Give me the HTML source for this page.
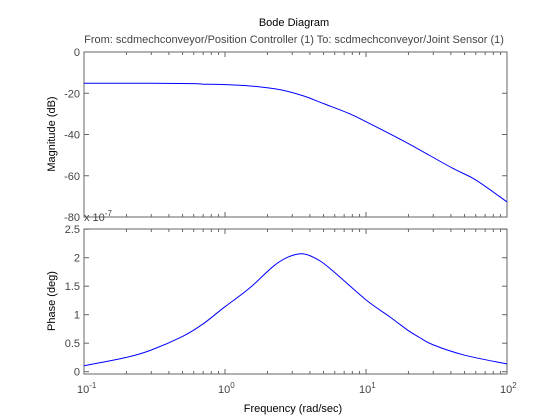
<!DOCTYPE html>
<html><head><meta charset="utf-8"><style>
body{margin:0;background:#fff;}
svg{display:block;font-family:"Liberation Sans",Arial,sans-serif;}
</style></head><body>
<svg id="chart" width="560" height="420">
<rect width="560" height="420" fill="#fff"/>
<text x="294" y="26" font-size="11" text-anchor="middle" fill="#000">Bode Diagram</text>
<text x="294" y="43" font-size="11" text-anchor="middle" fill="#444">From: scdmechconveyor/Position Controller (1)  To: scdmechconveyor/Joint Sensor (1)</text>
<g id="mag"></g>
<g id="ph"></g>
<text x="55" y="134" font-size="11" text-anchor="middle" transform="rotate(-90 55 134)" fill="#000">Magnitude (dB)</text>
<text x="55" y="301" font-size="11" text-anchor="middle" transform="rotate(-90 55 301)" fill="#000">Phase (deg)</text>
<text x="293" y="412" font-size="11" text-anchor="middle" fill="#000">Frequency  (rad/sec)</text>
<text x="84" y="221" font-size="11" fill="#444">x 10<tspan dy="-5" font-size="8">-7</tspan></text>
</svg>
<script>
const freqMag=[0.1,0.3,0.6,0.7,1,1.58,2.5,3.6,5,7.7,10,18.3,41,60,100];
const magDb=[-15.2,-15.2,-15.3,-15.6,-15.8,-16.6,-18.4,-21.3,-25,-30,-33.8,-43,-56.3,-62,-72.7];
const freqPh=[0.1,0.2,0.3,0.5,0.7,1,1.5,2.2,2.8,3.5,4.3,5.5,10,15,20,24,30,50,100];
const phaseVal=[0.105,0.25,0.38,0.62,0.84,1.14,1.47,1.85,2.01,2.07,2.0,1.82,1.26,0.95,0.72,0.60,0.47,0.29,0.135];
const magTicks=[0,-20,-40,-60,-80];
const phTicks=[0,0.5,1,1.5,2,2.5];
const xDecades=[-1,0,1,2];

const NS="http://www.w3.org/2000/svg";
const L=84,R=507;
const xs=f=>L+(Math.log10(f)+1)/3*(R-L);
function mk(p,t,a){const e=document.createElementNS(NS,t);for(const k in a)e.setAttribute(k,a[k]);p.appendChild(e);return e;}
function smooth(P){let d='M'+P[0][0].toFixed(1)+','+P[0][1].toFixed(1);
  for(let i=0;i<P.length-1;i++){const p0=P[i-1]||P[i],p1=P[i],p2=P[i+1],p3=P[i+2]||P[i+1];
    const c1=[p1[0]+(p2[0]-p0[0])/6,p1[1]+(p2[1]-p0[1])/6],c2=[p2[0]-(p3[0]-p1[0])/6,p2[1]-(p3[1]-p1[1])/6];
    d+=' C'+c1.map(v=>v.toFixed(1)).join(',')+' '+c2.map(v=>v.toFixed(1)).join(',')+' '+p2[0].toFixed(1)+','+p2[1].toFixed(1);}
  return d;}
function axes(g,top,bot,ys,ticks,fmt,showX,fx,fy,nameP){
  const fr=mk(g,'rect',{x:L,y:top,width:R-L,height:bot-top,fill:'none',stroke:'#666','stroke-width':1});
  
  
  for(let d=-1;d<2;d++){for(let m=1;m<=10;m++){const x=xs(m*Math.pow(10,d));const len=(m===1||m===10)?5:3;
    mk(g,'line',{x1:x,x2:x,y1:bot,y2:bot-len,stroke:'#666'});mk(g,'line',{x1:x,x2:x,y1:top,y2:top+len,stroke:'#666'});}}
  ticks.forEach(v=>{const y=ys(v);mk(g,'line',{x1:L,x2:L+5,y1:y,y2:y,stroke:'#666'});mk(g,'line',{x1:R,x2:R-5,y1:y,y2:y,stroke:'#666'});
    const t=mk(g,'text',{x:L-4,y:y+4,'font-size':11,'text-anchor':'end',fill:'#444'});t.textContent=fmt(v);
    
    });
  if(showX){xDecades.forEach(d=>{const x=xs(Math.pow(10,d));const t=mk(g,'text',{x:x-7,y:393,'font-size':11,fill:'#444'});
    t.textContent='10';const s=mk(t,'tspan',{dy:-5,'font-size':8});s.textContent=String(d);
    
    });}
  const P=fx.map((f,i)=>[xs(f),ys(fy[i])]);
  const pl=mk(g,'path',{d:smooth(P),fill:'none',stroke:'#00f','stroke-width':1});
  
  
}
const ym=v=>52+(0-v)/80*(217-52);
const yp=v=>371.7-v*57;
axes(document.getElementById('mag'),52,217,ym,magTicks,v=>String(v),false,freqMag,magDb,'magnitude');
axes(document.getElementById('ph'),229,374,yp,phTicks,v=>String(v),true,freqPh,phaseVal,'phase');
</script>
</body></html>
